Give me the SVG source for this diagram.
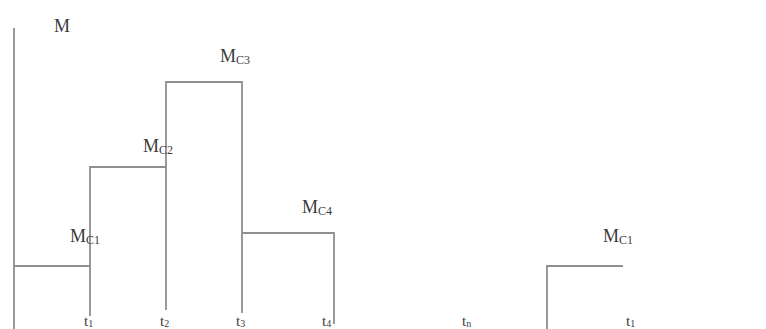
<svg xmlns="http://www.w3.org/2000/svg" width="766" height="329" viewBox="0 0 766 329">
  <style>
    .ln { fill: none; stroke: #8e8e8e; stroke-width: 1.8; }
    .lb { font-family: "Liberation Serif", "Times New Roman", serif; font-size: 18px; fill: #3a3a3a; }
    .sub { font-size: 12px; }
    .tl { font-family: "Liberation Serif", "Times New Roman", serif; font-size: 15px; fill: #3a3a3a; }
    .tsub { font-size: 10px; }
  </style>
  <rect width="766" height="329" fill="#fff"/>
  <g id="connectors">
    <!-- vertical axis -->
    <line class="ln" x1="14" y1="28" x2="14" y2="329"/>
    <!-- first stepped load profile -->
    <polyline class="ln" points="14,266 90,266 90,316"/>
    <polyline class="ln" points="90,266 90,167 166,167 166,310"/>
    <polyline class="ln" points="166,167 166,82 242,82 242,313"/>
    <polyline class="ln" points="242,233 334,233 334,324"/>
    <!-- repeated cycle -->
    <polyline class="ln" points="547,329 547,266 623,266"/>
  </g>
  <g id="axis-label">
    <text class="lb" x="54" y="32">M</text>
  </g>
  <g id="mc1">
    <text class="lb" x="70" y="242">M<tspan class="sub" dy="2">C1</tspan></text>
  </g>
  <g id="mc2">
    <text class="lb" x="143" y="152">M<tspan class="sub" dy="2">C2</tspan></text>
  </g>
  <g id="mc3">
    <text class="lb" x="220" y="62">M<tspan class="sub" dy="2">C3</tspan></text>
  </g>
  <g id="mc4">
    <text class="lb" x="302" y="213">M<tspan class="sub" dy="2">C4</tspan></text>
  </g>
  <g id="mc1-repeat">
    <text class="lb" x="603" y="242">M<tspan class="sub" dy="2">C1</tspan></text>
  </g>
  <g id="time-labels">
    <text class="tl" x="84" y="326">t<tspan class="tsub" dy="1">1</tspan></text>
    <text class="tl" x="160" y="326">t<tspan class="tsub" dy="1">2</tspan></text>
    <text class="tl" x="236" y="326">t<tspan class="tsub" dy="1">3</tspan></text>
    <text class="tl" x="322" y="326">t<tspan class="tsub" dy="1">4</tspan></text>
    <text class="tl" x="462" y="326">t<tspan class="tsub" dy="1">n</tspan></text>
    <text class="tl" x="626" y="326">t<tspan class="tsub" dy="1">1</tspan></text>
  </g>
</svg>
